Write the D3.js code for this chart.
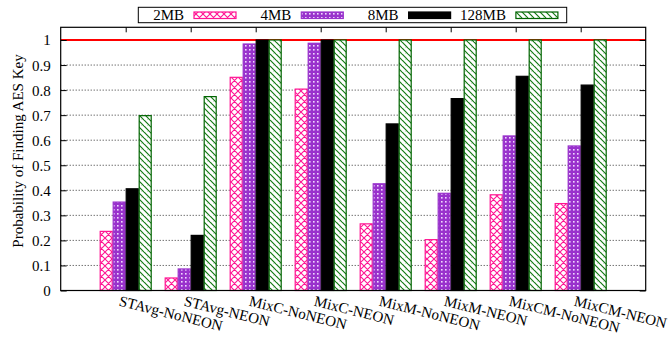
<!DOCTYPE html>
<html><head><meta charset="utf-8">
<script src="https://cdn.jsdelivr.net/npm/d3@7"></script>
<style>
body{margin:0;background:#fff}
svg{display:block}
svg text{font-family:"Liberation Serif","Tinos","Times New Roman","Nimbus Roman","DejaVu Serif",serif !important;fill:#000}
</style>
</head><body>
<svg id="c" width="672" height="339"></svg>
<script>
const categories = ["STAvg-NoNEON","STAvg-NEON","MixC-NoNEON","MixC-NEON","MixM-NoNEON","MixM-NEON","MixCM-NoNEON","MixCM-NEON"];
const seriesNames = ["2MB","4MB","8MB","128MB"];
const v2MB   = [0.236,0.050,0.851,0.804,0.266,0.203,0.382,0.347];
const v4MB   = [0.353,0.086,0.984,0.987,0.426,0.388,0.617,0.577];
const v8MB   = [0.406,0.220,1.000,1.000,0.665,0.766,0.855,0.820];
const v128MB = [0.698,0.774,1.000,1.000,1.000,1.000,1.000,1.000];
const yTicks = [0,0.1,0.2,0.3,0.4,0.5,0.6,0.7,0.8,0.9,1];
const refLine = 1;

const series = [v2MB, v4MB, v8MB, v128MB];
const fills = ["url(#pPink)","url(#pPurple)","#000","url(#pGreen)"];
const strokes = ["#ff1493","#9932cc","#000","#006400"];

const svg = d3.select("#c");
const L = 60.7, R = 645.7, T = 27.3, B = 290.5;
const x = d3.scaleLinear().domain([-1, 8]).range([L, R]);
const y = d3.scaleLinear().domain([0, 1.05]).range([B, B - 1.05*250.5]);
const fs = 15;
const FF = '"Liberation Serif","Tinos","Times New Roman","Nimbus Roman","DejaVu Serif",serif';

// patterns
const defs = svg.append("defs");
const pp = defs.append("pattern").attr("id","pPink").attr("patternUnits","userSpaceOnUse").attr("width",7).attr("height",7);
pp.append("rect").attr("width",7).attr("height",7).attr("fill","#fff");
pp.append("path").attr("d","M0,0L7,7M7,0L0,7M-1,6L1,8M6,-1L8,1M-1,1L1,-1M6,8L8,6").attr("stroke","#ff1493").attr("stroke-width",1.1);
const pu = defs.append("pattern").attr("id","pPurple").attr("patternUnits","userSpaceOnUse").attr("width",4).attr("height",4);
pu.append("rect").attr("width",4).attr("height",4).attr("fill","#9932cc");
pu.append("rect").attr("x",1).attr("y",1).attr("width",1.6).attr("height",1.6).attr("fill","#f0d8ff");
const pg = defs.append("pattern").attr("id","pGreen").attr("patternUnits","userSpaceOnUse").attr("width",6).attr("height",6);
pg.append("rect").attr("width",6).attr("height",6).attr("fill","#fff");
pg.append("path").attr("d","M0,0L6,6M-3,3L0,6M3,-3L9,3M3,6L6,9").attr("stroke","#137a13").attr("stroke-width",1.2);

// grid (dotted)
svg.append("g").selectAll("line").data(yTicks.filter(d=>d>0 && d<1)).join("line")
  .attr("x1",L).attr("x2",R).attr("y1",d=>y(d)).attr("y2",d=>y(d))
  .attr("stroke","#333").attr("stroke-width",1).attr("stroke-dasharray","1,2");

// red reference line
svg.append("line").attr("x1",L).attr("x2",R).attr("y1",y(refLine)).attr("y2",y(refLine))
  .attr("stroke","#ff0000").attr("stroke-width",2);

// bars
const bw = 0.2;
series.forEach((vals, s) => {
  svg.append("g").selectAll("rect").data(vals).join("rect")
    .attr("x",(d,i)=>x(i - 0.4 + s*bw) + 0.5)
    .attr("width",x(bw)-x(0) - 1)
    .attr("y",d=>y(d))
    .attr("height",d=>y(0)-y(d))
    .attr("fill",fills[s]).attr("stroke",strokes[s]).attr("stroke-width",1.2);
});

// axes
const yAxisL = d3.axisLeft(y).tickValues(yTicks).tickSize(-6).tickPadding(10).tickFormat(d3.format("~g"));
const gL = svg.append("g").attr("transform",`translate(${L},0)`).call(yAxisL);
const yAxisR = d3.axisRight(y).tickValues(yTicks).tickSize(-6).tickFormat("");
const gR = svg.append("g").attr("transform",`translate(${R},0)`).call(yAxisR);
const xAxisT = d3.axisTop(x).tickValues(d3.range(categories.length)).tickSize(-5).tickFormat("");
const gT = svg.append("g").attr("transform",`translate(0,${T})`).call(xAxisT);
[gL,gR,gT].forEach(g=>{
  g.select(".domain").remove();
  g.selectAll("line").attr("stroke","#000");
  g.attr("font-family",FF);
});
gL.selectAll("text").attr("font-size",fs).attr("font-family",FF).attr("dy","0.33em");

// border
svg.append("rect").attr("x",L).attr("y",T).attr("width",R-L).attr("height",B-T)
  .attr("fill","none").attr("stroke","#000").attr("stroke-width",1.2);

// x labels
svg.append("g").selectAll("text").data(categories).join("text")
  .attr("transform",(d,i)=>`translate(${x(i)-7.5},305.5) rotate(14)`)
  .attr("font-family",FF).attr("font-size",fs).attr("text-anchor","start").text(d=>d);

// y label
svg.append("text").attr("transform",`translate(22.5,151) rotate(-90)`)
  .attr("font-family",FF).attr("text-anchor","middle").attr("font-size",fs).text("Probability of Finding AES Key");

// legend
const lg = svg.append("g");
lg.append("rect").attr("x",138.3).attr("y",7.3).attr("width",566.7-138.3).attr("height",15.4)
  .attr("fill","#fff").attr("stroke","#000").attr("stroke-width",1);
seriesNames.forEach((n,s)=>{
  const sx = 194 + s*107.3;
  lg.append("text").attr("x",sx-10).attr("y",20.3).attr("text-anchor","end")
    .attr("font-family",FF).attr("font-size",fs).text(n);
  lg.append("rect").attr("x",sx).attr("y",12).attr("width",42).attr("height",6.5)
    .attr("fill",fills[s]).attr("stroke",strokes[s]).attr("stroke-width",1.2);
});
</script>
</body></html>
